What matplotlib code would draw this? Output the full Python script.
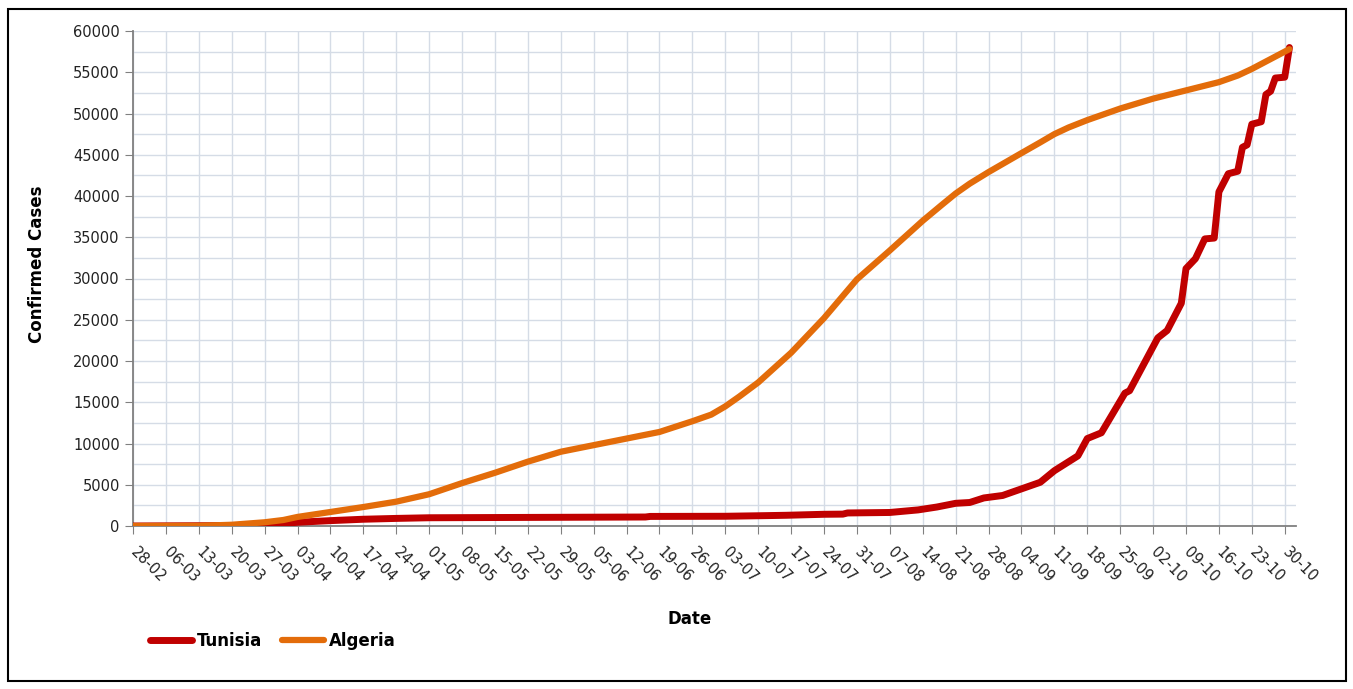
import matplotlib
matplotlib.use("Agg")
import matplotlib.pyplot as plt
from matplotlib.ticker import MultipleLocator
import pandas as pd

# values (2020, cumulative confirmed cases)
algeria_dates = ["28-02", "13-03", "20-03", "27-03", "31-03", "03-04", "10-04", "17-04",
                 "24-04", "01-05", "08-05", "15-05", "22-05", "29-05", "05-06", "12-06",
                 "19-06", "26-06", "30-06", "03-07", "06-07", "10-07", "17-07", "24-07",
                 "31-07", "07-08", "14-08", "18-08", "21-08", "24-08", "28-08", "04-09",
                 "08-09", "11-09", "14-09", "18-09", "25-09", "02-10", "09-10", "16-10",
                 "20-10", "23-10", "31-10"]
algeria_cases = [0, 20, 150, 450, 730, 1100, 1700, 2300,
                 2950, 3850, 5200, 6450, 7800, 9000, 9800, 10600,
                 11400, 12700, 13500, 14500, 15700, 17400, 21000, 25200,
                 29900, 33400, 37000, 38900, 40300, 41500, 42900, 45200,
                 46500, 47500, 48300, 49200, 50600, 51800, 52800, 53800,
                 54600, 55400, 57800]

tunisia_dates = ["28-02", "20-03", "27-03", "31-03", "03-04", "10-04", "17-04", "24-04",
                 "01-05", "16-06", "17-06", "03-07", "12-07", "16-07", "24-07", "28-07",
                 "29-07", "07-08", "13-08", "17-08", "21-08", "24-08", "27-08", "31-08",
                 "04-09", "08-09", "11-09", "16-09", "18-09", "21-09", "26-09", "27-09",
                 "03-10", "05-10", "08-10", "09-10", "11-10", "13-10", "15-10", "16-10",
                 "18-10", "20-10", "21-10", "22-10", "23-10", "25-10", "26-10", "27-10",
                 "28-10", "30-10", "31-10"]
tunisia_cases = [0, 50, 150, 300, 450, 650, 820, 920,
                 1000, 1090, 1160, 1180, 1260, 1300, 1420, 1440,
                 1580, 1640, 1950, 2300, 2750, 2850, 3400, 3700,
                 4500, 5300, 6700, 8500, 10600, 11300, 16100, 16400,
                 22800, 23700, 27000, 31200, 32400, 34800, 34900, 40500,
                 42700, 43000, 45900, 46200, 48700, 49000, 52300, 52700,
                 54300, 54400, 58000]

def to_dates(labels):
    return pd.to_datetime([d + "-2020" for d in labels], format="%d-%m-%Y")

start = pd.Timestamp("2020-02-28")

fig = plt.figure(figsize=(13.53, 6.89), dpi=100)
ax = fig.add_axes([133 / 1353, 1 - 526 / 689, (1296 - 133) / 1353, (526 - 31) / 689])

ax.plot(to_dates(tunisia_dates), tunisia_cases, color="#C00000", lw=5,
        solid_joinstyle="round", solid_capstyle="round", label="Tunisia", zorder=3)
ax.plot(to_dates(algeria_dates), algeria_cases, color="#E36C0A", lw=4.5,
        solid_joinstyle="round", solid_capstyle="round", label="Algeria", zorder=4)

ax.set_xlim(start, start + pd.Timedelta(days=247.4))
ax.set_ylim(0, 60000)
ticks = pd.date_range(start, periods=36, freq="7D")
ax.set_xticks(ticks)
ax.set_xticklabels([t.strftime("%d-%m") for t in ticks], rotation=-45,
                   ha="left", va="center", rotation_mode="anchor", fontsize=10.5,
                   color="#222222")
ax.yaxis.set_major_locator(MultipleLocator(5000))
ax.yaxis.set_minor_locator(MultipleLocator(2500))
for lab in ax.get_yticklabels():
    lab.set_fontsize(10.5)
    lab.set_color("#222222")

ax.grid(True, which="major", color="#D5DCE6", lw=1)
ax.grid(True, which="minor", axis="y", color="#D5DCE6", lw=1)
ax.tick_params(axis="both", which="major", length=6, color="#808080", direction="out")
ax.tick_params(axis="x", pad=11)
ax.tick_params(axis="y", which="minor", length=0)
for side in ["top", "right"]:
    ax.spines[side].set_visible(False)
for side in ["left", "bottom"]:
    ax.spines[side].set_color("#808080")
    ax.spines[side].set_linewidth(1.3)

fig.text(37 / 1353, 1 - 264 / 689, "Confirmed Cases", rotation=90, ha="center",
         va="center", fontsize=12, fontweight="bold")
fig.text(690 / 1353, 1 - 619 / 689, "Date", ha="center", va="center",
         fontsize=12, fontweight="bold")

leg = fig.legend(loc="center left", bbox_to_anchor=(135 / 1353, 1 - 641 / 689),
                 ncol=2, frameon=False, handlelength=2.5, handletextpad=0.3,
                 columnspacing=1.2, prop={"size": 12, "weight": "bold"})

# outer chart border
fig.patches.append(plt.Rectangle((8 / 1353, 8 / 689), 1338 / 1353, 672 / 689,
                                 transform=fig.transFigure, fill=False,
                                 edgecolor="black", lw=1.5))

fig.savefig("out.png", dpi=100)
